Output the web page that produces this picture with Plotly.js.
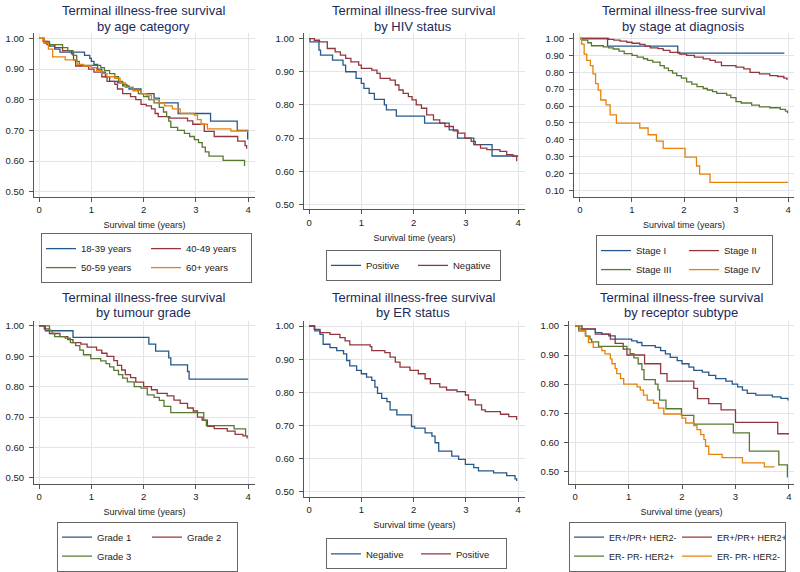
<!DOCTYPE html>
<html><head><meta charset="utf-8">
<script src="https://cdn.plot.ly/plotly-3.0.1.min.js"></script>
<style>html,body{margin:0;padding:0;background:#fff}#chart{width:800px;height:572px}</style>
</head><body><div id="chart"></div>
<script>
// ---------- DATA (Kaplan-Meier step points: time in years, survival) ----------
const titleLine1 = ["Terminal illness-free survival","Terminal illness-free survival","Terminal illness-free survival","Terminal illness-free survival","Terminal illness-free survival","Terminal illness-free survival"];
const titleLine2 = ["by age category","by HIV status","by stage at diagnosis","by tumour grade","by ER status","by receptor subtype"];
const xAxisTitle = "Survival time (years)";
const xTickVals = [0,1,2,3,4];

// Panel 1: age category
const ageNames = ["18-39 years","40-49 years","50-59 years","60+ years"];
const age1839T = [0,0.1,0.2,0.3,0.4,0.87,0.97,1.0,1.05,1.12,1.2,1.27,1.35,1.5,1.6,1.72,1.95,2.2,2.3,2.66,3.28,3.79,3.99];
const age1839S = [1,0.985,0.975,0.965,0.955,0.945,0.935,0.925,0.915,0.90,0.89,0.875,0.86,0.855,0.845,0.835,0.82,0.805,0.79,0.755,0.73,0.70,0.67];
const age4049T = [0,0.08,0.15,0.3,0.45,0.62,0.66,0.7,0.95,1.05,1.2,1.3,1.45,1.5,1.6,1.75,1.85,1.95,2.05,2.15,2.22,2.28,2.5,2.84,2.94,3.16,3.35,3.8,3.94,3.97];
const age4049S = [1,0.99,0.98,0.97,0.96,0.95,0.93,0.91,0.90,0.89,0.875,0.86,0.85,0.835,0.82,0.81,0.80,0.785,0.78,0.77,0.755,0.745,0.74,0.731,0.72,0.697,0.68,0.665,0.65,0.64];
const age5059T = [0,0.1,0.2,0.45,0.55,0.65,0.72,0.77,1.18,1.25,1.35,1.45,1.52,1.6,1.68,1.8,1.9,2.0,2.1,2.2,2.3,2.38,2.44,2.48,2.52,2.65,2.78,2.88,2.97,3.05,3.12,3.18,3.25,3.52,3.93];
const age5059S = [1,0.99,0.98,0.97,0.96,0.945,0.925,0.912,0.905,0.895,0.885,0.875,0.86,0.85,0.84,0.83,0.82,0.81,0.80,0.79,0.775,0.76,0.745,0.73,0.71,0.70,0.69,0.68,0.67,0.66,0.645,0.63,0.616,0.602,0.584];
const age60T = [0,0.1,0.18,0.26,0.5,0.73,0.85,1.0,1.1,1.2,1.3,1.45,1.55,1.65,1.8,1.95,2.05,2.15,2.3,2.4,2.55,2.7,2.97,3.03,3.1,3.22,3.67,3.99];
const age60S = [1,0.985,0.965,0.94,0.93,0.915,0.91,0.905,0.895,0.885,0.875,0.87,0.855,0.84,0.83,0.82,0.815,0.80,0.79,0.78,0.77,0.755,0.75,0.735,0.72,0.705,0.698,0.695];

// Panel 2: HIV status
const hivNames = ["Positive","Negative"];
const hivPosT = [0,0.02,0.19,0.22,0.45,0.65,0.7,0.9,1.0,1.05,1.15,1.25,1.44,1.48,1.67,2.21,2.68,2.84,3.15,3.5,4.0];
const hivPosS = [1,0.99,0.965,0.95,0.935,0.92,0.90,0.88,0.865,0.85,0.835,0.817,0.80,0.785,0.766,0.745,0.725,0.70,0.68,0.646,0.646];
const hivNegT = [0,0.1,0.2,0.35,0.5,0.6,0.7,0.8,0.95,1.0,1.2,1.3,1.36,1.55,1.65,1.72,1.8,1.9,1.97,2.05,2.15,2.25,2.38,2.5,2.6,2.76,2.85,2.98,3.1,3.18,3.28,3.4,3.65,3.78,3.9,3.97];
const hivNegS = [1,0.995,0.99,0.97,0.96,0.95,0.94,0.93,0.92,0.91,0.905,0.895,0.88,0.875,0.86,0.845,0.835,0.825,0.815,0.80,0.79,0.77,0.755,0.745,0.735,0.722,0.715,0.70,0.69,0.68,0.67,0.665,0.66,0.65,0.645,0.63];

// Panel 3: stage at diagnosis
const stageNames = ["Stage I","Stage II","Stage III","Stage IV"];
const stage1T = [0,0.53,1.88,3.93];
const stage1S = [1,0.955,0.913,0.913];
const stage2T = [0,0.55,0.65,0.77,0.9,1.0,1.15,1.25,1.35,1.5,1.6,1.73,1.92,2.05,2.2,2.37,2.5,2.6,2.72,3.0,3.15,3.27,3.45,3.65,3.8,3.92,3.98];
const stage2S = [1,0.995,0.99,0.985,0.978,0.972,0.965,0.955,0.945,0.94,0.93,0.918,0.908,0.9,0.89,0.879,0.87,0.86,0.84,0.83,0.82,0.80,0.79,0.78,0.775,0.765,0.755];
const stage3T = [0,0.05,0.15,0.22,0.45,0.55,0.64,0.75,0.85,1.0,1.1,1.22,1.3,1.4,1.54,1.62,1.7,1.78,1.86,1.95,2.05,2.15,2.25,2.37,2.45,2.55,2.63,2.82,2.9,3.0,3.1,3.3,3.45,3.65,3.85,3.95,3.99];
const stage3S = [1,0.99,0.975,0.957,0.95,0.945,0.938,0.925,0.91,0.9,0.89,0.88,0.87,0.86,0.84,0.825,0.81,0.795,0.78,0.765,0.743,0.73,0.715,0.704,0.695,0.685,0.675,0.665,0.65,0.626,0.618,0.606,0.595,0.59,0.58,0.57,0.557];
const stage4T = [0,0.03,0.08,0.13,0.2,0.25,0.3,0.35,0.4,0.5,0.58,0.7,1.15,1.31,1.47,1.6,2.02,2.24,2.3,2.5,4.0];
const stage4S = [1,0.967,0.908,0.87,0.84,0.79,0.733,0.694,0.636,0.607,0.548,0.499,0.47,0.43,0.392,0.349,0.298,0.245,0.197,0.148,0.148];

// Panel 4: tumour grade
const gradeNames = ["Grade 1","Grade 2","Grade 3"];
const grade1T = [0,0.12,0.65,2.1,2.23,2.48,2.52,2.84,2.87,4.0];
const grade1S = [1,0.984,0.962,0.94,0.917,0.895,0.872,0.85,0.825,0.825];
const grade2T = [0,0.1,0.2,0.4,0.55,0.65,0.8,0.92,1.1,1.2,1.3,1.43,1.5,1.58,1.65,1.75,1.85,2.0,2.15,2.26,2.45,2.58,2.7,2.84,2.95,3.03,3.12,3.22,3.35,3.6,3.75,3.9,3.98];
const grade2S = [1,0.99,0.975,0.965,0.955,0.945,0.94,0.93,0.92,0.91,0.9,0.886,0.87,0.855,0.84,0.83,0.815,0.80,0.79,0.778,0.77,0.756,0.745,0.73,0.72,0.70,0.69,0.67,0.662,0.654,0.643,0.638,0.63];
const grade3T = [0,0.2,0.25,0.3,0.5,0.6,0.7,0.78,0.85,0.99,1.18,1.28,1.35,1.43,1.52,1.6,1.69,1.82,1.95,2.07,2.2,2.3,2.39,2.52,3.15,3.2,3.73,3.95];
const grade3S = [1,0.985,0.975,0.965,0.96,0.945,0.935,0.92,0.905,0.892,0.885,0.876,0.865,0.854,0.84,0.828,0.816,0.80,0.795,0.773,0.765,0.755,0.735,0.715,0.69,0.672,0.661,0.637];

// Panel 5: ER status
const erNames = ["Negative","Positive"];
const erNegT = [0,0.11,0.21,0.27,0.4,0.53,0.66,0.72,0.78,0.91,1.0,1.1,1.2,1.26,1.31,1.39,1.49,1.55,1.68,1.96,2.02,2.22,2.35,2.41,2.48,2.73,2.86,2.99,3.15,3.24,3.53,3.78,3.94,3.97];
const erNegS = [1,0.985,0.975,0.945,0.935,0.926,0.916,0.896,0.88,0.866,0.856,0.846,0.836,0.816,0.797,0.782,0.772,0.747,0.732,0.697,0.692,0.678,0.668,0.648,0.623,0.608,0.598,0.583,0.573,0.563,0.557,0.549,0.539,0.533];
const erPosT = [0,0.1,0.21,0.4,0.59,0.69,0.78,1.17,1.2,1.45,1.55,1.65,1.74,1.93,2.09,2.22,2.32,2.5,2.63,2.83,2.99,3.05,3.18,3.3,3.37,3.66,3.82,3.97];
const erPosS = [1,0.99,0.98,0.975,0.965,0.955,0.943,0.938,0.926,0.92,0.906,0.891,0.876,0.866,0.856,0.841,0.826,0.816,0.807,0.802,0.792,0.777,0.762,0.747,0.742,0.734,0.727,0.717];

// Panel 6: receptor subtype
const subNames = ["ER+/PR+ HER2-","ER+/PR+ HER2+","ER- PR- HER2+","ER- PR- HER2-"];
const subLumAT = [0,0.13,0.38,0.5,0.63,0.75,1.06,1.16,1.25,1.5,1.6,1.69,1.78,1.91,2.0,2.13,2.22,2.38,2.5,2.63,2.82,2.94,3.04,3.13,3.22,3.38,3.69,3.85,3.98];
const subLumAS = [1,0.989,0.977,0.972,0.966,0.955,0.949,0.943,0.932,0.926,0.915,0.904,0.892,0.881,0.87,0.858,0.847,0.841,0.83,0.819,0.81,0.80,0.79,0.779,0.768,0.762,0.756,0.751,0.743];
const subLumBT = [0,0.07,0.38,0.66,0.75,0.9,0.97,1.3,1.6,1.72,2.22,2.29,2.5,2.73,3.0,3.79,4.0];
const subLumBS = [1,0.99,0.972,0.955,0.94,0.92,0.90,0.87,0.836,0.81,0.785,0.75,0.733,0.711,0.668,0.629,0.629];
const subHer2T = [0,0.07,0.2,0.28,0.31,0.44,0.97,1.03,1.1,1.18,1.25,1.29,1.5,1.55,1.58,1.7,1.99,2.22,2.96,3.26,3.81,3.97];
const subHer2S = [1,0.983,0.965,0.955,0.945,0.93,0.92,0.905,0.89,0.87,0.85,0.815,0.80,0.78,0.745,0.715,0.692,0.662,0.632,0.569,0.522,0.478];
const subTNT = [0,0.09,0.19,0.25,0.34,0.5,0.56,0.66,0.69,0.75,0.78,0.85,0.91,1.16,1.22,1.28,1.35,1.47,1.56,1.66,2.0,2.07,2.22,2.28,2.35,2.41,2.44,2.5,2.75,3.13,3.54,3.73];
const subTNS = [1,0.983,0.966,0.943,0.926,0.915,0.904,0.887,0.87,0.853,0.836,0.819,0.80,0.79,0.779,0.762,0.745,0.734,0.717,0.697,0.683,0.666,0.657,0.643,0.626,0.609,0.586,0.558,0.547,0.529,0.515,0.515];

// ---------- LAYOUT / STYLE ----------
const W = 800, H = 572;
const FONT = "Liberation Sans, Arial, sans-serif";
const lineColors = ['#26588a','#93363e','#58782f','#e8810a'];
const titleColor = '#1c2a5a';
const px = v => v / W;
const py = v => 1 - v / H;

const panels = [
  {series:[[age1839T,age1839S],[age4049T,age4049S],[age5059T,age5059S],[age60T,age60S]], names:ageNames,
   box:[34,255,33,199], xr:[-0.096,4.13], yr:[0.484,1.019], y0:0.5, tcx:143, tcy:[11,26.5], leg:[41,236], ew:105, lf:9.5},
  {series:[[hivPosT,hivPosS],[hivNegT,hivNegS]], names:hivNames,
   box:[304,525,33,212], xr:[-0.096,4.13], yr:[0.485,1.018], y0:0.5, tcx:413, tcy:[11,26.5], leg:[326,253], ew:87, lf:9.5},
  {series:[[stage1T,stage1S],[stage2T,stage2S],[stage3T,stage3S],[stage4T,stage4S]], names:stageNames,
   box:[574,794,33,199], xr:[-0.115,4.115], yr:[0.064,1.035], y0:0.1, tcx:683, tcy:[11,26.5], leg:[596,238], ew:88, lf:9.5},
  {series:[[grade1T,grade1S],[grade2T,grade2S],[grade3T,grade3S]], names:gradeNames,
   box:[34,255,325,490], xr:[-0.096,4.13], yr:[0.48,1.016], y0:0.5, tcx:143, tcy:[301,316.5], leg:[57,528], ew:90, lf:9.5},
  {series:[[erNegT,erNegS],[erPosT,erPosS]], names:erNames,
   box:[304,525,325,503], xr:[-0.096,4.13], yr:[0.485,1.015], y0:0.5, tcx:413, tcy:[301,316.5], leg:[326,545], ew:90, lf:9.5},
  {series:[[subLumAT,subLumAS],[subLumBT,subLumBS],[subHer2T,subHer2S],[subTNT,subTNS]], names:subNames,
   box:[569,794,325,490], xr:[-0.113,4.094], yr:[0.456,1.017], y0:0.5, tcx:681, tcy:[301,316.5], leg:[569,528], ew:108, lf:9}
];

const traces = [];
const layout = {
  width: W, height: H, margin:{l:0,r:0,t:0,b:0},
  paper_bgcolor:'#ffffff', plot_bgcolor:'#ffffff',
  font:{family:FONT, color:'#222'}, showlegend:true, annotations:[]
};

panels.forEach((p, i) => {
  const sfx = i === 0 ? '' : String(i + 1);
  const legName = 'legend' + sfx;
  p.series.forEach((s, j) => {
    traces.push({
      type:'scatter', mode:'lines', x:s[0], y:s[1], name:p.names[j],
      xaxis:'x' + sfx, yaxis:'y' + sfx,
      line:{shape:'hv', color:lineColors[j], width:1.3},
      legend:legName, legendgroup:'p' + i + 'c' + (j % 2), hoverinfo:'x+y+name'
    });
  });
  const common = {
    showline:true, linecolor:'#555', linewidth:1, ticks:'outside', ticklen:4, tickwidth:1, tickcolor:'#555',
    showgrid:true, gridcolor:'#e2e5e8', gridwidth:1, zeroline:false, fixedrange:true,
    tickfont:{size:9.5, color:'#222', family:FONT}
  };
  layout['xaxis' + sfx] = Object.assign({}, common, {
    domain:[px(p.box[0]), px(p.box[1])], range:p.xr, tickvals:xTickVals, anchor:'y' + sfx,
    title:{text:xAxisTitle, font:{size:9, color:'#222', family:FONT}, standoff:7}
  });
  layout['yaxis' + sfx] = Object.assign({}, common, {
    domain:[py(p.box[3]), py(p.box[2])], range:p.yr, tick0:p.y0, dtick:0.1, tickformat:'.2f',
    anchor:'x' + sfx, ticklabelstandoff:3
  });
  layout[legName] = {
    x:px(p.leg[0]), y:py(p.leg[1]), xanchor:'left', yanchor:'top', orientation:'h',
    bgcolor:'#ffffff', bordercolor:'#666', borderwidth:1,
    font:{size:p.lf, color:'#222', family:FONT}, entrywidth:p.ew - 45, tracegroupgap:0
  };
  [titleLine1[i], titleLine2[i]].forEach((t, k) => {
    layout.annotations.push({
      xref:'paper', yref:'paper', x:px(p.tcx), y:py(p.tcy[k]), xanchor:'center', yanchor:'middle',
      text:t, showarrow:false, borderpad:0, font:{size:13, color:titleColor, family:FONT}
    });
  });
});

Plotly.newPlot('chart', traces, layout, {displayModeBar:false, staticPlot:false});
</script>
</body></html>
